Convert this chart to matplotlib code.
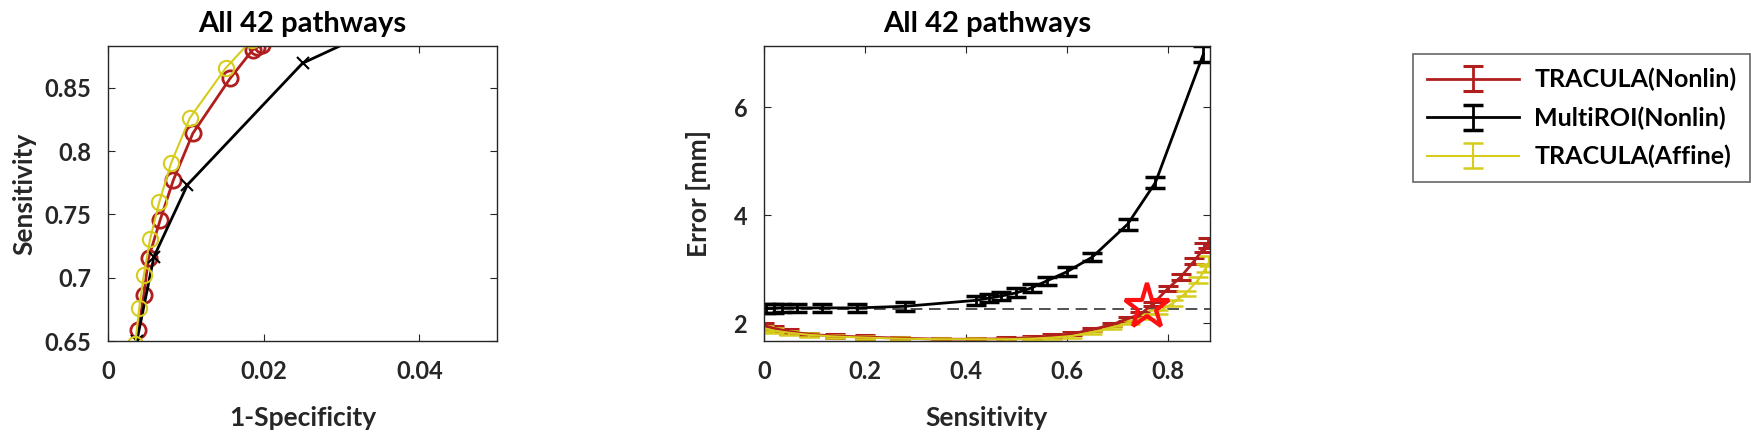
import matplotlib
matplotlib.use("Agg")
import matplotlib.pyplot as plt
from matplotlib.ticker import FormatStrFormatter

plt.rcParams['font.family'] = ['Lato', 'DejaVu Sans']
plt.rcParams['font.weight'] = 'bold'
plt.rcParams['axes.titleweight'] = 'bold'
plt.rcParams['axes.labelweight'] = 'bold'

RED = '#b01e1e'
YEL = '#d6cc1c'
BLK = '#000000'
AXC = '#262626'

title = "All 42 pathways"
labels = ["TRACULA(Nonlin)", "MultiROI(Nonlin)", "TRACULA(Affine)"]

# ROC (left)
roc_red_x = [0.0039, 0.0046, 0.0052, 0.0067, 0.0084, 0.0109, 0.0157, 0.0186, 0.0192, 0.0198]
roc_red_y = [0.6587, 0.6863, 0.7153, 0.7456, 0.7772, 0.8140, 0.8575, 0.8800, 0.8820, 0.8835]
roc_yel_x = [0.0035, 0.0040, 0.0046, 0.0054, 0.0066, 0.0081, 0.0105, 0.0151, 0.0185]
roc_yel_y = [0.6480, 0.6758, 0.7022, 0.7303, 0.7600, 0.7904, 0.8260, 0.8654, 0.8880]
roc_blk_x = [0.0034, 0.0037, 0.0059, 0.0102, 0.0250, 0.0340]
roc_blk_y = [0.6420, 0.6500, 0.7166, 0.7733, 0.8694, 0.8950]

# Error vs sensitivity (right)
err_red_x = [0.0, 0.02, 0.05, 0.09, 0.14, 0.20, 0.27, 0.35, 0.42, 0.48, 0.53, 0.57,
             0.61, 0.65, 0.69, 0.72, 0.745, 0.77, 0.80, 0.825, 0.852, 0.872, 0.880]
err_red_y = [1.95, 1.90, 1.84, 1.79, 1.76, 1.74, 1.72, 1.70, 1.70, 1.71, 1.73, 1.76,
             1.80, 1.88, 1.97, 2.08, 2.16, 2.35, 2.64, 2.85, 3.15, 3.40, 3.48]
err_red_e = [0.05, 0.04, 0.04, 0.03, 0.03, 0.03, 0.03, 0.03, 0.03, 0.03, 0.03, 0.03,
             0.03, 0.03, 0.03, 0.04, 0.04, 0.04, 0.05, 0.05, 0.06, 0.08, 0.09]

err_yel_x = [0.0, 0.02, 0.05, 0.09, 0.14, 0.20, 0.27, 0.35, 0.42, 0.48, 0.53, 0.57,
             0.61, 0.65, 0.69, 0.725, 0.755, 0.78, 0.81, 0.835, 0.86, 0.875, 0.882]
err_yel_y = [1.90, 1.86, 1.82, 1.78, 1.75, 1.73, 1.71, 1.70, 1.70, 1.70, 1.71, 1.73,
             1.76, 1.83, 1.92, 2.02, 2.12, 2.20, 2.37, 2.55, 2.80, 3.02, 3.15]
err_yel_e = [0.05, 0.05, 0.04, 0.04, 0.03, 0.03, 0.03, 0.03, 0.03, 0.03, 0.03, 0.03,
             0.03, 0.03, 0.03, 0.04, 0.04, 0.04, 0.05, 0.05, 0.06, 0.08, 0.09]

err_blk_x = [0.005, 0.02, 0.035, 0.065, 0.115, 0.185, 0.28, 0.42, 0.445, 0.47, 0.50,
             0.53, 0.56, 0.60, 0.65, 0.72, 0.775, 0.87]
err_blk_y = [2.27, 2.27, 2.28, 2.28, 2.28, 2.28, 2.31, 2.42, 2.46, 2.50, 2.56,
             2.65, 2.78, 2.95, 3.22, 3.83, 4.60, 6.98]
err_blk_e = [0.08, 0.08, 0.08, 0.08, 0.08, 0.08, 0.08, 0.08, 0.08, 0.08, 0.08,
             0.08, 0.08, 0.08, 0.08, 0.10, 0.10, 0.15]

ref_err = 2.26
star_x, star_y = 0.758, 2.29


def style_axes(ax):
    for s in ax.spines.values():
        s.set_color(AXC)
        s.set_linewidth(1.0)
    ax.tick_params(direction='in', top=True, right=True, length=5,
                   color=AXC, labelcolor=AXC, labelsize=17)
    ax.tick_params(axis='x', pad=14)
    ax.tick_params(axis='y', pad=12)
    for t in ax.get_xticklabels() + ax.get_yticklabels():
        t.set_fontweight('bold')


fig = plt.figure(figsize=(17.51, 4.4), dpi=100)

# left: ROC
ax1 = fig.add_axes([0.0617, 0.225, 0.2222, 0.6705])
ax1.plot(roc_red_x, roc_red_y, '-o', color=RED, lw=2, ms=11, mfc='none', mew=2)
ax1.plot(roc_blk_x, roc_blk_y, '-x', color=BLK, lw=2, ms=9, mew=1.5)
ax1.plot(roc_yel_x, roc_yel_y, '-o', color=YEL, lw=1.5, ms=11, mfc='none', mew=1.5)
ax1.set_xlim(0, 0.05)
ax1.set_ylim(0.65, 0.883)
ax1.set_xticks([0, 0.02, 0.04])
ax1.set_yticks([0.65, 0.7, 0.75, 0.8, 0.85])
ax1.xaxis.set_major_formatter(FormatStrFormatter('%g'))
ax1.yaxis.set_major_formatter(FormatStrFormatter('%g'))
ax1.set_xlabel("1-Specificity", fontsize=19, color=AXC, labelpad=16)
ax1.set_ylabel("Sensitivity", fontsize=19, color=AXC, labelpad=6)
ax1.set_title(title, fontsize=21, pad=10)
style_axes(ax1)

# right: error vs sensitivity
ax2 = fig.add_axes([0.4363, 0.225, 0.2547, 0.6705])
h_red = ax2.errorbar(err_red_x, err_red_y, yerr=err_red_e, color=RED, lw=2,
                     capsize=7, capthick=2.2, elinewidth=2)
h_blk = ax2.errorbar(err_blk_x, err_blk_y, yerr=err_blk_e, color=BLK, lw=2,
                     capsize=7, capthick=2.5, elinewidth=2)
h_yel = ax2.errorbar(err_yel_x, err_yel_y, yerr=err_yel_e, color=YEL, lw=1.5,
                     capsize=7, capthick=1.8, elinewidth=1.5)
ax2.axhline(ref_err, color='#333333', lw=1.2, ls=(0, (7, 4)), zorder=1)
ax2.plot([star_x], [star_y], marker='*', color='#ff1010', ms=34, mfc='none',
         mew=3, zorder=5)
ax2.set_xlim(0, 0.883)
ax2.set_ylim(1.667, 7.13)
ax2.set_xticks([0, 0.2, 0.4, 0.6, 0.8])
ax2.set_yticks([2, 4, 6])
ax2.xaxis.set_major_formatter(FormatStrFormatter('%g'))
ax2.set_xlabel("Sensitivity", fontsize=19, color=AXC, labelpad=16)
ax2.set_ylabel("Error [mm]", fontsize=19, color=AXC, labelpad=16)
ax2.set_title(title, fontsize=21, pad=10)
style_axes(ax2)

leg = fig.legend([h_red, h_blk, h_yel], labels, loc='upper left',
                 bbox_to_anchor=(0.807, 0.877), borderaxespad=0,
                 prop={'weight': 'bold', 'size': 18}, frameon=True,
                 fancybox=False, edgecolor='#404040', handlelength=3.7,
                 borderpad=0.55, labelspacing=0.6, handletextpad=0.6)
leg.get_frame().set_linewidth(1.2)

fig.savefig("out.png", dpi=100)
